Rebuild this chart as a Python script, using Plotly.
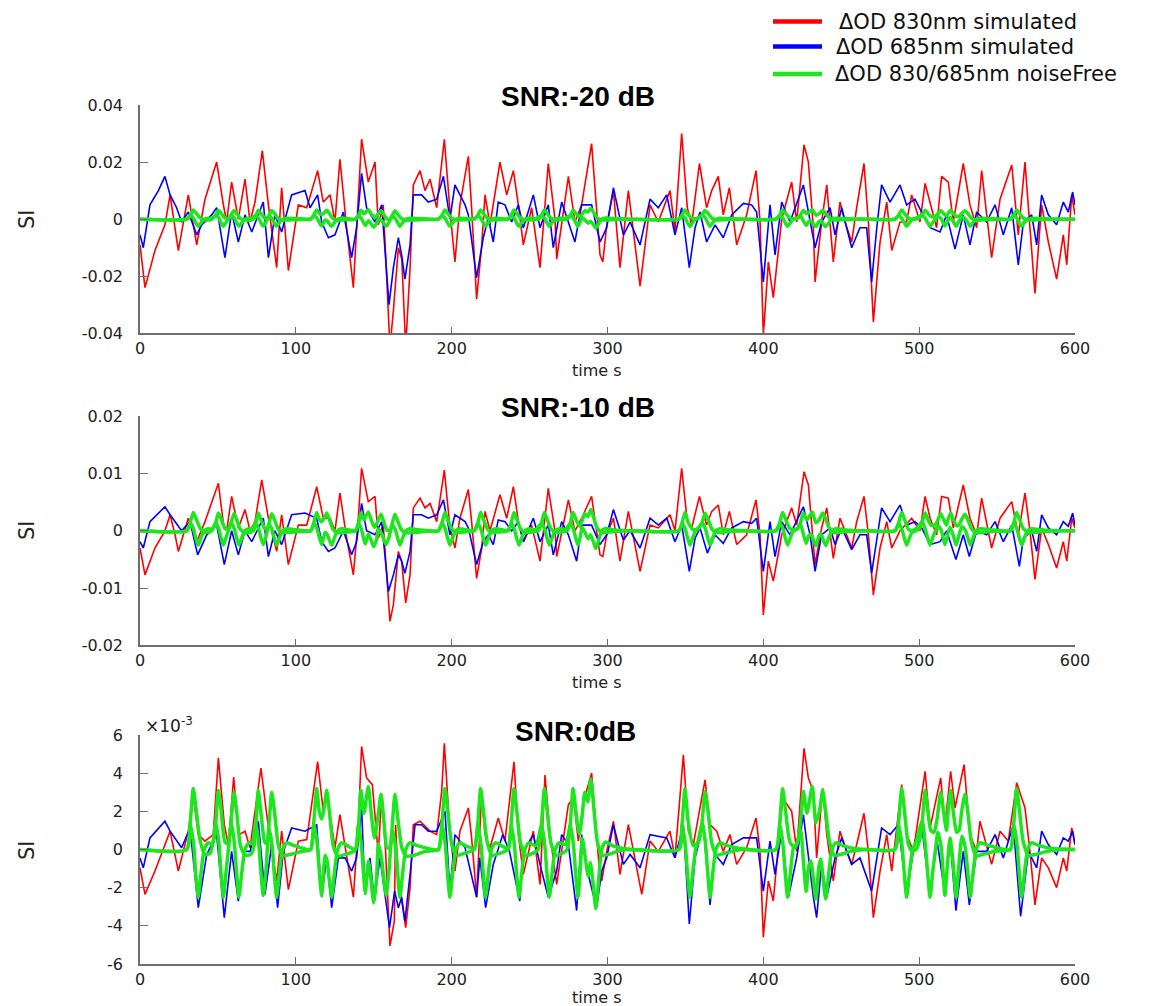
import numpy as np
import plotly.graph_objects as go

# ---------------- data (time s, SI) ----------------
# SNR -20 dB panel (SI units)
red_m20 = [(0,-0.009),(3.2,-0.024),(9.6,-0.011),(16,-0.002),(19.3,0.0085),(22.5,-0.003),(24.6,-0.011),(31,0.0085),(36.4,-0.009),(41.7,0.007),(49.2,0.020),(53.5,0.005),(55.6,-0.001),(58.8,0.013),(63.1,0.0),(67.4,0.014),(70.6,-0.001),(73.8,0.006),(78.5,0.024),(82.4,0.005),(87.7,-0.017),(90.9,0.011),(95.2,-0.018),(101.6,0.005),(107,0.004),(114,0.017),(117.6,0.006),(122,0.0085),(125.1,-0.001),(128.3,0.021),(132.6,-0.003),(136.9,-0.024),(140.1,0.005),(142.2,0.028),(146.5,0.013),(150.8,0.020),(152.9,-0.002),(156.1,0.005),(160.4,-0.045),(162.6,-0.032),(165.8,-0.010),(168,-0.014),(170.5,-0.045),(173.3,-0.017),(175.4,0.012),(179.7,0.017),(182.9,0.010),(186.1,0.014),(190.4,0.004),(193.6,0.020),(195.3,0.028),(198.9,0.003),(202.1,-0.015),(205.3,0.005),(210.7,0.022),(212.8,0.004),(216,-0.028),(219.3,-0.009),(221.4,0.0085),(224.6,-0.002),(231,0.020),(235.3,0.0085),(239.6,0.017),(242.8,0.005),(246,-0.009),(251.3,0.004),(256.7,-0.017),(262,0.0195),(266.3,0.0),(267.4,-0.014),(274.9,0.015),(279.1,-0.001),(283.4,0.005),(289.8,0.0265),(295.2,-0.0125),(297,-0.015),(299.5,-0.002),(303.8,0.010),(308,-0.017),(313.4,0.010),(320.9,-0.0235),(327.3,0.005),(332.6,-0.001),(340.1,0.010),(343.3,-0.004),(347.6,0.030),(351.2,0.004),(354,-0.002),(359,0.0195),(363.6,0.004),(366.9,0.010),(371.1,0.015),(374.3,0.0015),(378.2,0.011),(382.9,-0.009),(389.3,0.0015),(395.3,0.017),(397.9,-0.001),(400,-0.041),(403.2,-0.015),(406.4,-0.0275),(411.8,0.0),(418.2,0.013),(421.4,-0.001),(426.1,0.026),(428.9,0.020),(432.1,-0.003),(433.2,-0.022),(437.4,-0.001),(440.7,0.012),(444.9,-0.015),(449.2,0.006),(452.4,-0.001),(456.7,-0.008),(459.9,0.004),(464.6,0.0195),(467.4,-0.001),(470.6,-0.036),(474.9,-0.008),(479.2,0.006),(482.4,-0.011),(487.7,-0.001),(491.9,-0.001),(495.2,0.0085),(500.5,-0.001),(503.8,0.0125),(507,0.006),(511.2,-0.003),(514.4,0.015),(518.7,0.013),(521.9,-0.001),(528.3,0.0195),(532.6,0.005),(536.9,-0.003),(540.1,0.017),(546.5,-0.0135),(551.9,0.007),(559.4,0.019),(563.6,-0.0055),(567.9,0.020),(571.1,-0.003),(574.3,-0.026),(578.6,0.005),(582.9,-0.008),(588.2,-0.021),(592.5,-0.0055),(594.7,-0.016),(597.9,0.0085),(600,0.0015)]
blue_m20 = [(0,-0.0055),(2.1,-0.010),(6.4,0.005),(11.8,0.010),(16,0.015),(19.3,0.0085),(23.5,0.004),(26.7,-0.001),(31,0.0025),(36.4,-0.0055),(39.6,-0.002),(46,0.0015),(49.2,0.004),(54.5,-0.0135),(58.8,0.0025),(63.1,-0.008),(67.4,0.0015),(71.7,-0.0045),(79.1,0.006),(82.4,-0.0135),(86.6,0.0015),(90.9,-0.0045),(97.3,0.0085),(105.9,0.010),(109.1,0.004),(114,0.0085),(116.6,-0.001),(120.9,-0.0065),(125.1,-0.0055),(130.5,0.0025),(135.8,-0.0135),(139,-0.003),(142.2,0.016),(145.4,0.004),(150.8,-0.001),(155.1,0.005),(159.8,-0.030),(162.6,-0.017),(165.8,-0.0065),(167.9,-0.0125),(170,-0.021),(173.3,-0.009),(175.4,0.0085),(180.7,0.0085),(185,0.006),(190.4,0.007),(194.7,0.015),(198.9,0.0),(202.1,0.012),(208.6,0.005),(210.7,0.0015),(216,-0.0205),(220.3,-0.0065),(223.5,0.0005),(226.7,-0.008),(229.9,0.006),(234.2,0.005),(238.5,-0.001),(242.8,0.005),(246,-0.003),(252.4,0.0085),(256.7,-0.003),(262,0.005),(265.2,-0.010),(270.6,0.006),(274.9,-0.001),(279.1,-0.008),(283.4,0.005),(289.8,0.005),(295.2,-0.008),(299.5,-0.003),(303.8,0.011),(307,0.0025),(310.2,-0.0055),(314.5,-0.001),(320.9,-0.009),(327.3,0.007),(332.6,0.004),(338,0.0085),(343.3,-0.0055),(347.6,0.004),(352.5,-0.017),(356.2,-0.003),(359.4,0.0025),(363.6,-0.008),(369,-0.002),(374.3,-0.0065),(379.7,0.0015),(387.2,0.0055),(392.5,0.005),(395.7,0.0025),(400,-0.022),(404.3,0.005),(407.5,-0.0125),(411.8,0.006),(417.1,-0.001),(425.7,0.012),(430,-0.001),(433.2,-0.010),(437.4,-0.001),(442.8,0.004),(446,-0.0055),(450.3,0.004),(456.7,-0.010),(462,-0.003),(466.3,-0.003),(469.5,-0.022),(472.8,-0.003),(475.9,0.012),(481.3,0.006),(487.7,0.012),(492,0.005),(497.3,0.007),(501.6,0.0025),(507,-0.003),(513.4,-0.0045),(517.6,0.0015),(523,-0.0105),(528.3,0.0015),(532.6,-0.009),(536.9,0.0025),(543.3,-0.001),(548.7,0.005),(554,-0.0055),(559.4,0.004),(563.6,-0.016),(566.9,-0.001),(572.2,0.0015),(575.4,-0.009),(578.6,0.0085),(582.9,0.0015),(588.2,-0.002),(592.5,0.006),(595.7,0.0025),(598.5,0.0095),(600,0.005)]

# SNR -10 dB panel (SI units)
red_m10 = [(0,-0.003),(3.2,-0.0077),(9.6,-0.003),(16,0.0),(19.3,0.0028),(22.5,-0.0007),(24.6,-0.0036),(31,0.0022),(36.4,-0.0019),(41.7,0.0016),(50.3,0.0083),(53.5,0.0013),(55.6,0.0),(58.8,0.006),(63.1,0.0005),(67.4,0.0037),(70.6,0.0),(73.8,0.0016),(78.1,0.0089),(82.4,0.0022),(87.7,-0.0036),(90.9,0.0028),(95.2,-0.0059),(101.6,0.001),(107,0.001),(113.4,0.0077),(117.6,0.0022),(122,0.0022),(125.1,0.0),(128.3,0.0066),(132.6,-0.0013),(136.9,-0.0077),(140.1,0.0022),(142.2,0.0109),(146.5,0.0051),(150.8,0.006),(152.9,-0.0013),(156.1,0.001),(160.4,-0.0158),(162.6,-0.0129),(165.8,-0.0036),(167.9,-0.0053),(170.5,-0.0126),(173.3,-0.0077),(175.4,0.004),(179.7,0.0057),(182.9,0.004),(186.1,0.0048),(190.4,0.0016),(193.6,0.0074),(195.3,0.0106),(198.9,0.0005),(202.1,-0.003),(205.3,0.0022),(210.7,0.0072),(212.8,0.0016),(216,-0.0083),(219.3,-0.003),(221.4,0.0034),(224.6,0.0),(231,0.0063),(235.3,0.0022),(239.6,0.0077),(242.8,0.0016),(246,-0.0019),(251.3,0.001),(256.7,-0.0053),(262,0.0074),(266.3,0.0),(267.4,-0.0045),(274.9,0.0054),(279.1,0.0),(283.4,0.0022),(289.8,0.006),(295.2,-0.0042),(297,-0.0045),(299.5,-0.0007),(303.8,0.0022),(308,-0.0053),(313.4,0.0034),(320.9,-0.0071),(327.3,0.001),(332.6,0.0005),(340.1,0.0028),(343.3,0.0),(347.6,0.0109),(351.2,0.0016),(354,0.0005),(359,0.006),(363.6,0.001),(366.9,0.0034),(371.1,0.0045),(374.3,-0.0007),(378.2,0.0034),(382.9,-0.0024),(389.3,-0.0007),(395.3,0.0054),(397.9,-0.0007),(400,-0.0147),(403.2,-0.0053),(406.4,-0.0088),(411.8,-0.0007),(418.2,0.004),(421.4,0.001),(426.1,0.0103),(428.9,0.008),(432.1,-0.0019),(433.2,-0.0059),(437.4,0.0005),(440.7,0.004),(444.9,-0.0048),(449.2,0.0022),(452.4,0.0),(456.7,-0.003),(459.9,0.0016),(464.6,0.006),(467.4,-0.0007),(470.6,-0.0112),(474.9,-0.003),(479.2,0.0016),(482.4,-0.003),(487.7,0.0),(495.2,0.0022),(500.5,0.0),(503.8,0.006),(507,0.0022),(511.2,-0.0007),(514.4,0.006),(518.7,0.0057),(521.9,0.0005),(528.3,0.008),(532.6,0.0022),(536.9,-0.0007),(540.1,0.0057),(546.5,-0.003),(551.9,0.0022),(559.4,0.0051),(563.6,-0.0007),(567.9,0.0066),(571.1,0.0),(574.3,-0.0085),(578.6,0.0005),(582.9,-0.0024),(588.2,-0.0065),(592.5,-0.0019),(594.7,-0.0053),(597.9,0.0022),(600,0.0005)]
blue_m10 = [(0,-0.0019),(2.1,-0.003),(6.4,0.0016),(16,0.0042),(19.3,0.0028),(26.7,0.0),(32.1,0.0016),(37,-0.0042),(42.8,-0.0007),(49.2,0.001),(54.1,-0.0059),(58.8,0.0),(63.1,-0.0042),(67.4,0.0),(71.7,-0.0019),(79.1,0.0022),(82.4,-0.0045),(86.6,0.0),(90.9,-0.0024),(97.3,0.0028),(105.9,0.0031),(113.4,0.0022),(116.6,-0.0019),(120.9,-0.0036),(125.1,-0.003),(130.5,0.0),(135.8,-0.0042),(139,-0.0019),(142.2,0.0048),(145.4,0.0),(150.8,-0.0007),(155.1,0.0016),(159.4,-0.0106),(162.6,-0.0077),(165.8,-0.0042),(167.9,-0.0053),(170,-0.0074),(173.3,-0.0036),(175.4,0.0028),(180.7,0.0028),(185,0.0022),(190.4,0.0028),(194.7,0.0054),(198.9,-0.0007),(202.1,0.0028),(208.6,0.0016),(210.7,0.0005),(216,-0.0059),(220.3,-0.0019),(223.5,-0.0007),(226.7,-0.0024),(229.9,0.0019),(234.2,0.0016),(238.5,0.0),(242.8,0.0016),(246,-0.0019),(252.4,0.0022),(256.7,-0.0019),(262,0.001),(265.2,-0.0042),(270.6,0.0016),(274.9,-0.0007),(280.2,-0.0053),(283.4,0.001),(289.8,0.001),(295.2,-0.0024),(299.5,-0.0007),(303.8,0.0037),(307,0.001),(310.2,-0.0016),(314.5,0.0),(320.9,-0.003),(327.3,0.0022),(332.6,0.001),(338,0.0022),(343.3,-0.0019),(347.6,0.001),(352.5,-0.0071),(356.2,-0.0013),(359.4,0.0005),(364.1,-0.0039),(369,-0.0007),(374.3,-0.0022),(379.7,0.0005),(387.2,0.0016),(392.5,0.0013),(395.7,0.0022),(400,-0.0071),(404.3,0.0016),(407.5,-0.0045),(411.8,0.0016),(417.1,-0.0007),(425.7,0.0042),(430,-0.0007),(433.2,-0.0071),(437.4,-0.0007),(442.8,0.0005),(446,-0.0024),(450.3,0.0005),(456.7,-0.0033),(462,-0.0007),(466.3,-0.0007),(469.5,-0.0074),(472.8,-0.0013),(475.9,0.004),(481.3,0.0016),(487.7,0.0045),(492,0.001),(497.3,0.0016),(501.6,0.0005),(507,-0.0024),(513.4,-0.0019),(517.6,0.0),(523.6,-0.005),(528.3,-0.0007),(532.2,-0.0045),(536.9,0.0),(543.3,-0.0007),(548.7,0.0016),(554,-0.0019),(559.4,0.001),(564.3,-0.0062),(566.9,-0.0013),(572.2,0.0),(575.4,-0.0036),(578.6,0.0028),(582.9,0.0005),(588.2,-0.0007),(592.5,0.0016),(595.7,0.0008),(598.5,0.0031),(600,0.001)]

# SNR 0 dB panel (values in units of 1e-3, as on its axis)
red_0db_e3 = [(0,-0.96),(3.2,-2.35),(9.6,-1.13),(16,0.26),(19.3,0.96),(24.6,-1.13),(31,0.96),(34.2,2.8),(37.4,0.78),(41.7,0.44),(47,0.78),(50.3,4.8),(54.1,1.3),(56.7,0.26),(60.1,3.8),(63.5,0.78),(67.4,0.96),(70.6,0.09),(77.6,4.27),(82.4,1.13),(87.7,-1.65),(90.9,0.96),(95.2,-2.1),(101.6,0.44),(107,0.52),(114,4.6),(117.6,2.0),(119.8,3.05),(125.1,0.09),(128.3,1.83),(132.6,-0.26),(136.9,-2.5),(140.1,1.3),(142.2,5.4),(145.4,3.75),(149.1,3.4),(152.9,-0.26),(155.1,2.9),(157.6,-0.1),(160.4,-5.05),(163.2,-3.75),(164,1.3),(165.8,-1.48),(170.5,-4.1),(173.3,-2.0),(175.4,1.3),(179.7,1.48),(186.1,0.96),(190.4,0.78),(193.6,3.05),(195.3,5.57),(198.9,0.78),(202.1,-1.13),(205.3,0.96),(210.7,2.18),(212.8,0.61),(216,-2.5),(219.3,3.05),(221.4,0.78),(224.6,0.09),(229.9,1.65),(234.2,0.44),(240,4.6),(242.8,0.78),(246,-1.3),(252.4,0.96),(256.7,-1.83),(259.9,3.9),(263.1,0.78),(267.4,-1.83),(274.9,2.35),(278.1,2.7),(281.3,0.44),(284.5,2.5),(289.8,4.0),(295.2,-1.48),(296.3,-1.65),(299.5,-0.1),(303.8,1.48),(308,-1.3),(313.4,1.3),(322,-2.35),(327.3,0.44),(332.6,-0.1),(340.1,0.96),(343.3,-0.44),(348.7,4.96),(351.9,0.96),(355.1,0.26),(362.6,3.65),(365.8,1.3),(370.1,0.96),(374.3,-0.1),(378.6,0.78),(382.9,-0.78),(389.3,0.09),(395.3,1.65),(397.9,-0.1),(400,-4.6),(403.2,-1.65),(406.4,-2.7),(412.4,2.7),(418.2,2.0),(421.4,-0.1),(426.1,5.3),(428.9,3.75),(432.1,3.05),(434.2,-0.44),(438.1,3.2),(440.7,0.78),(444.9,-1.65),(449.2,0.96),(453.5,-0.1),(456.7,-0.78),(459.9,0.26),(464.6,1.9),(467.4,-0.1),(470.6,-3.57),(474.9,-1.13),(479.2,0.78),(482.4,-1.13),(488.8,3.4),(492,0.78),(496.3,-0.1),(503.8,4.1),(507,1.13),(513.8,3.75),(516.6,1.3),(520.2,4.1),(523,2.18),(528.8,4.45),(532.6,0.78),(536.9,-0.1),(539,1.48),(546.5,-0.78),(551.9,0.96),(557.2,0.44),(562.6,3.5),(567.9,2.18),(571.1,-0.1),(574.3,-2.9),(578.6,-0.44),(582.9,-0.96),(588.2,-2.0),(592.5,-0.44),(594.7,-1.13),(597.9,1.13),(600,0.26)]
blue_0db_e3 = [(0,-0.44),(2.1,-0.96),(6.4,0.61),(16,1.48),(19.3,0.96),(26.7,0.09),(32.1,1.13),(37.4,-3.05),(42.8,-0.26),(49.2,0.78),(54.1,-3.57),(58.8,-0.1),(63.1,-2.7),(67.4,-0.1),(70.6,-0.1),(75.9,1.48),(80.2,-2.35),(84.5,0.26),(88.3,-3.05),(92,-0.1),(97.3,1.13),(105.9,0.96),(113.4,1.3),(116.6,-2.5),(119.8,-0.44),(123,-3.05),(127.3,-0.44),(131.6,-0.44),(135.8,-1.13),(139,-0.44),(142.2,2.18),(144.4,-2.35),(147.6,-0.44),(150.4,-2.7),(154,-0.44),(160.1,-4.1),(163.4,-2.18),(165.8,-3.05),(167.9,-2.5),(170,-3.75),(173.3,-1.3),(176.5,1.3),(180.7,1.3),(185,0.96),(190.4,0.96),(195.7,2.0),(198.9,-2.18),(202.1,0.78),(208.6,0.09),(216,-2.5),(218.1,-0.44),(221.8,-3.05),(226.7,-0.78),(232.8,0.78),(237.1,-0.1),(243.7,-2.7),(246,-0.1),(252.4,0.78),(256.7,-0.78),(262,-2.5),(267.4,-1.13),(270.6,0.78),(274.9,0.26),(280.2,-3.2),(283.4,0.78),(287.6,-1.3),(293,-3.05),(296.3,-1.13),(299.5,-0.44),(303.8,1.3),(307,0.26),(310.2,-0.78),(314.5,-0.26),(320.9,-0.96),(327.3,0.78),(338,0.61),(343.3,-0.44),(348.7,1.3),(352.5,-3.9),(356.2,-0.44),(361.5,1.3),(365.8,-2.9),(369,-0.26),(374.3,-0.78),(379.7,0.26),(387.2,0.61),(395.7,0.61),(400,-2.18),(404.3,0.44),(407.5,-1.3),(411.8,0.96),(416.1,-2.5),(421.4,-0.44),(425.7,1.83),(432.1,-2.5),(434.2,-3.57),(437.4,-0.78),(440.7,-2.5),(446,-0.44),(450.3,0.61),(456.7,-0.78),(462,-0.44),(469.5,-2.18),(472.8,-0.44),(475.9,1.13),(481.3,0.78),(486.6,1.3),(492,-2.35),(497.3,0.44),(501.6,1.3),(507,-2.5),(511.2,0.61),(516.6,-2.35),(519.8,0.61),(523.6,-3.2),(528.3,-0.1),(532.2,-2.9),(536.9,-0.1),(543.3,-0.1),(548.7,0.78),(554,-0.44),(560.4,1.3),(565.1,-3.5),(570.1,-0.1),(575.4,-0.96),(578.6,0.96),(582.9,0.26),(588.2,-0.26),(592.5,0.61),(595.7,0.44),(598.5,0.96),(600,0.26)]

# noise-free responses (units of 1e-3), same in all three panels
green_a_e3 = [(0,0),(30,0),(32,1.2),(34.2,3.2),(36,2.1),(38.5,0.5),(41.5,-0.25),(45,-0.2),(46.5,0.2),(48.5,1.3),(50.3,3.1),(52,2.1),(54.5,0.4),(56.5,0.3),(58.3,1.3),(60.3,3.0),(62,2.0),(64.5,0.2),(67.5,-0.3),(71,-0.25),(73,0.1),(74.3,1.2),(75.9,3.1),(77.5,2.0),(80,0.4),(81.5,0.3),(82.8,1.3),(84.5,3.0),(86.3,2.0),(88.8,0.2),(91.5,-0.3),(97,-0.25),(104,-0.1),(109.5,0),(111.3,1.2),(113.4,3.2),(115,2.0),(116.6,1.6),(118.2,2.2),(119.8,3.1),(121.5,2.0),(124,0.2),(127,-0.35),(132,-0.25),(138,-0.05),(140,0.9),(141.8,3.1),(143.7,1.9),(146.5,3.3),(148.5,1.8),(150.5,0.6),(152.8,1.8),(154.7,2.9),(156.5,1.5),(158.5,0.1),(160.5,0.1),(162,1.4),(163.6,2.9),(165.5,1.6),(168,0.1),(171,-0.35),(176,-0.3),(183,-0.1),(191.5,0),(193.6,1.2),(195.7,3.2),(197.5,2.0),(200,0.3),(203,-0.3),(208,-0.2),(214.5,0),(216.6,1.2),(218.6,3.2),(220.4,2.0),(223,0.3),(226,-0.3),(231,-0.2),(236,0),(238,1.2),(240,3.2),(241.8,2.0),(244.3,0.3),(247.5,-0.3),(252,-0.2),(255.5,0),(257.5,1.2),(259.5,3.2),(261.3,2.0),(263.8,0.3),(267,-0.3),(271,-0.2),(274,0),(276,1.2),(277.9,3.2),(279.7,2.0),(282,0.8),(283.8,1.8),(285.4,3.0),(287.3,2.5),(289.3,3.7),(291.2,2.2),(293.5,0.4),(296.5,-0.3),(301,-0.25),(306,-0.1),(312,0),(345.5,0),(347.7,1.2),(349.7,3.2),(351.6,1.6),(355,0.2),(358.5,0.4),(360.5,1.3),(362.6,3.05),(364.5,2.0),(367,0.3),(370,-0.3),(375,-0.2),(380,-0.1),(386,0),(408,0),(410.3,1.2),(412.4,3.2),(414.3,2.0),(417,0.4),(420,0.1),(422,0.4),(423.8,1.4),(425.7,3.05),(428,1.9),(431.4,3.3),(433.7,1.4),(436,2.0),(438.1,3.1),(440,2.0),(442.5,0.4),(445.5,-0.3),(450,-0.25),(456,-0.1),(466,0),(484.5,0),(486.6,1.2),(488.8,3.2),(490.6,2.0),(493,0.3),(495.5,-0.1),(498,0),(500,0.4),(501.8,1.3),(503.8,3.1),(505.6,2.0),(507.5,1.0),(509.5,0.9),(511.5,1.6),(513.8,3.0),(515.8,1.9),(517.5,1.0),(518.6,2.0),(520.2,3.1),(522,1.9),(524,0.9),(525.6,1.0),(527.3,2.0),(529.4,2.9),(531.3,1.9),(533.5,0.4),(536.5,-0.35),(541,-0.25),(548,-0.1),(558.5,0),(560.5,1.2),(562.6,3.2),(564.4,2.0),(566.8,0.4),(570,-0.3),(575,-0.25),(582,-0.1),(590,0),(600,0)]
green_b_e3 = [(0,0),(30,0),(32.5,1.3),(34.5,0.2),(35.7,-1.2),(37.4,-2.5),(39.2,-1.2),(41.2,0),(43.7,0.35),(46.5,0.3),(48.6,1.4),(50.6,0.4),(51.8,-1.0),(53.5,-2.5),(55.3,-1.1),(57,0.2),(58.6,1.4),(60.6,0.3),(61.8,-1.0),(63.5,-2.5),(65.3,-1.2),(67.3,0),(69.8,0.35),(72,0.3),(74.2,1.4),(76.2,0.3),(77.4,-1.0),(79.1,-2.4),(80.9,-1.0),(82.8,1.1),(84.8,0.2),(86,-1.1),(87.7,-2.5),(89.5,-1.2),(91.5,0),(94,0.35),(99,0.2),(105,0.05),(109.5,0),(111.7,1.3),(113.7,0.3),(114.9,-1.0),(116.6,-2.4),(118.8,-0.3),(120.1,-0.6),(121.2,-1.4),(123,-2.5),(124.8,-1.2),(126.8,0),(129.3,0.35),(134,0.15),(138.3,0),(140.1,1.3),(142.1,0.2),(143.3,-1.1),(144.6,-2.3),(146.5,-0.6),(148,-1.4),(150,-2.8),(151.8,-1.5),(153,0.3),(155,-0.5),(157.9,-2.4),(159.7,-1.2),(161.9,1.0),(163.9,0.2),(165.1,-1.0),(166.8,-2.5),(168.6,-1.2),(170.6,0),(173.1,0.35),(178,0.2),(185,0.05),(191.5,0),(194,1.3),(196,0.2),(197.2,-1.1),(198.9,-2.5),(200.7,-1.2),(202.7,0),(205.2,0.35),(210,0.15),(214.5,0.05),(216.9,1.3),(218.9,0.2),(220.1,-1.1),(221.8,-2.5),(223.6,-1.2),(225.6,0),(228.1,0.35),(233,0.15),(236.5,0.05),(238.3,1.3),(240.3,0.2),(241.5,-1.1),(243.2,-2.5),(245,-1.2),(247,0),(249.5,0.35),(254,0.2),(257.8,1.3),(259.8,0.2),(261,-1.1),(262.7,-2.5),(264.5,-1.2),(266.5,0),(269,0.35),(273,0.25),(276.2,1.3),(278.2,0.2),(279.4,-1.1),(281.1,-2.5),(282.7,-0.8),(283.8,0.6),(285.7,-0.4),(287.6,-1.4),(289,-0.7),(290.8,-1.8),(292.5,-3.1),(294.3,-1.6),(296.3,0),(298.8,0.4),(303,0.2),(310,0.05),(316,0),(346,0),(348,1.3),(350,0.2),(351.2,-1.1),(352.9,-2.5),(354.7,-1.2),(356.5,0),(358,0.4),(360.9,1.4),(362.9,0.3),(364.1,-1.0),(365.8,-2.5),(367.6,-1.2),(369.6,0),(372.1,0.35),(377,0.2),(385,0.05),(408,0),(410.7,1.3),(412.7,0.2),(413.9,-1.1),(415.6,-2.5),(417.4,-1.2),(419.4,0.1),(421.5,0.3),(424,1.0),(425.6,-0.5),(427.5,-2.2),(429,-0.9),(430.5,-0.6),(433.7,-2.6),(435.6,-0.9),(436.8,-0.5),(440,-2.6),(442,-1.2),(444,0),(446.5,0.35),(451,0.2),(458,0.05),(466,0),(484.5,0),(487,1.3),(489,0.2),(490.3,-1.1),(492,-2.5),(493.8,-1.2),(495.8,0),(498,0.4),(502,1.5),(504,0.2),(505.3,-1.1),(507,-2.5),(508.8,-1.1),(510.5,0),(512,0.9),(514.2,0.1),(516.5,-2.4),(518.3,-0.6),(519.8,0.6),(521.9,-0.8),(523.7,-2.5),(525.5,-0.8),(527.5,0.7),(529.6,0.1),(531.1,-1.1),(532.8,-2.5),(534.6,-1.2),(536.6,0),(539,0.35),(545,0.2),(552,0.05),(558.5,0),(560.9,1.3),(562.9,0.2),(564.1,-1.1),(565.8,-2.5),(567.6,-1.2),(569.6,0),(572.1,0.35),(577,0.2),(585,0.05),(600,0)]

titles = ["SNR:-20 dB", "SNR:-10 dB", "SNR:0dB"]
legend_labels = ["\u0394OD 830nm simulated", "\u0394OD 685nm simulated", "\u0394OD 830/685nm noiseFree"]
x_ticks = [0, 100, 200, 300, 400, 500, 600]
y_ticks = [[-0.04, -0.02, 0, 0.02, 0.04], [-0.02, -0.01, 0, 0.01, 0.02],
           [-0.006, -0.004, -0.002, 0, 0.002, 0.004, 0.006]]
y_ticktext = [["-0.04", "-0.02", "0", "0.02", "0.04"], ["-0.02", "-0.01", "0", "0.01", "0.02"],
              ["-6", "-4", "-2", "0", "2", "4", "6"]]
E3 = 1e-3

# ---------------- figure ----------------
RED, BLUE, GREEN = "#ff0000", "#0000ff", "#1ee61e"
W, H = 1163, 1006
ML, MR, MT, MB = 140, 88, 105, 42
PW, PH = W - ML - MR, H - MT - MB
def fy(py):  # page pixel row -> paper fraction
    return (H - MB - py) / PH
def fx(px):
    return (px - ML) / PW

def unzip(pairs, scale=1.0):
    t = [p[0] for p in pairs]
    v = [p[1] * scale for p in pairs]
    return t, v

panels = [
    (red_m20, 1.0, blue_m20, 1.0),
    (red_m10, 1.0, blue_m10, 1.0),
    (red_0db_e3, E3, blue_0db_e3, E3),
]
tops = [105, 416.3, 735]
bots = [333.3, 645.3, 964]

fig = go.Figure()
for i, (rp, rs, bp, bs) in enumerate(panels):
    xa = "x" if i == 0 else f"x{i+1}"
    ya = "y" if i == 0 else f"y{i+1}"
    t, v = unzip(rp, rs)
    fig.add_trace(go.Scatter(x=t, y=v, mode="lines", line=dict(color=RED, width=1.6),
                             xaxis=xa, yaxis=ya, showlegend=False))
    t, v = unzip(bp, bs)
    fig.add_trace(go.Scatter(x=t, y=v, mode="lines", line=dict(color=BLUE, width=1.6),
                             xaxis=xa, yaxis=ya, showlegend=False))
    for g in (green_a_e3, green_b_e3):
        t, v = unzip(g, E3)
        fig.add_trace(go.Scatter(x=t, y=v, mode="lines",
                                 line=dict(color=GREEN, width=3.5, shape="spline", smoothing=0.6),
                                 xaxis=xa, yaxis=ya, showlegend=False))

axcol = "#6e6e6e"
tickfont = dict(family="DejaVu Sans", size=16, color="#222")
layout = dict(width=W, height=H, margin=dict(l=ML, r=MR, t=MT, b=MB),
              plot_bgcolor="white", paper_bgcolor="white", showlegend=False)
for i in range(3):
    sx = "xaxis" if i == 0 else f"xaxis{i+1}"
    sy = "yaxis" if i == 0 else f"yaxis{i+1}"
    ya = "y" if i == 0 else f"y{i+1}"
    xa = "x" if i == 0 else f"x{i+1}"
    layout[sx] = dict(domain=[0, 1], anchor=ya, range=[0, 600], tickvals=x_ticks,
                      ticks="inside", ticklen=7, tickcolor=axcol, tickwidth=1.2,
                      showline=True, linecolor=axcol, linewidth=1.5, showgrid=False,
                      zeroline=False, tickfont=tickfont, ticklabelstandoff=0)
    rng = [y_ticks[i][0], y_ticks[i][-1]]
    layout[sy] = dict(domain=[fy(bots[i]), fy(tops[i])], anchor=xa, range=rng,
                      tickvals=y_ticks[i], ticktext=y_ticktext[i],
                      ticks="inside", ticklen=8, tickcolor=axcol, tickwidth=1.2,
                      showline=True, linecolor=axcol, linewidth=1.5, showgrid=False,
                      zeroline=False, tickfont=tickfont, ticklabelstandoff=12)
fig.update_layout(**layout)

ann = []
title_y = [97, 408, 731]
title_x = [578, 578, 575]
time_y = [370, 682, 998]
si_y = [219, 530, 850]
for i in range(3):
    ann.append(dict(text=f"<b>{titles[i]}</b>", x=fx(title_x[i]), y=fy(title_y[i]),
                    xref="paper", yref="paper", showarrow=False, xanchor="center", yanchor="middle",
                    font=dict(family="Liberation Sans", size=28, color="black")))
    ann.append(dict(text="time s", x=fx(597), y=fy(time_y[i]), xref="paper", yref="paper",
                    showarrow=False, xanchor="center", yanchor="middle",
                    font=dict(family="DejaVu Sans", size=16, color="#222")))
    ann.append(dict(text="SI", x=fx(27), y=fy(si_y[i]), xref="paper", yref="paper",
                    showarrow=False, textangle=-90, xanchor="center", yanchor="middle",
                    font=dict(family="DejaVu Sans", size=21, color="#222")))
ann.append(dict(text="\u00d710<sup>-3</sup>", x=fx(143), y=fy(725), xref="paper", yref="paper",
                showarrow=False, xanchor="left", yanchor="middle",
                font=dict(family="DejaVu Sans", size=17, color="#222")))

shapes = []
leg_y = [21.5, 46.5, 74]
leg_col = [RED, BLUE, GREEN]
leg_tx = [837, 834, 833]
for k in range(3):
    shapes.append(dict(type="line", xref="paper", yref="paper", x0=fx(773), x1=fx(822),
                       y0=fy(leg_y[k]), y1=fy(leg_y[k]), line=dict(color=leg_col[k], width=4.5)))
    ann.append(dict(text=legend_labels[k], x=fx(leg_tx[k]), y=fy(leg_y[k]), xref="paper", yref="paper",
                    showarrow=False, xanchor="left", yanchor="middle",
                    font=dict(family="DejaVu Sans", size=21, color="#111")))
fig.update_layout(annotations=ann, shapes=shapes)

fig.write_html("out.html")
